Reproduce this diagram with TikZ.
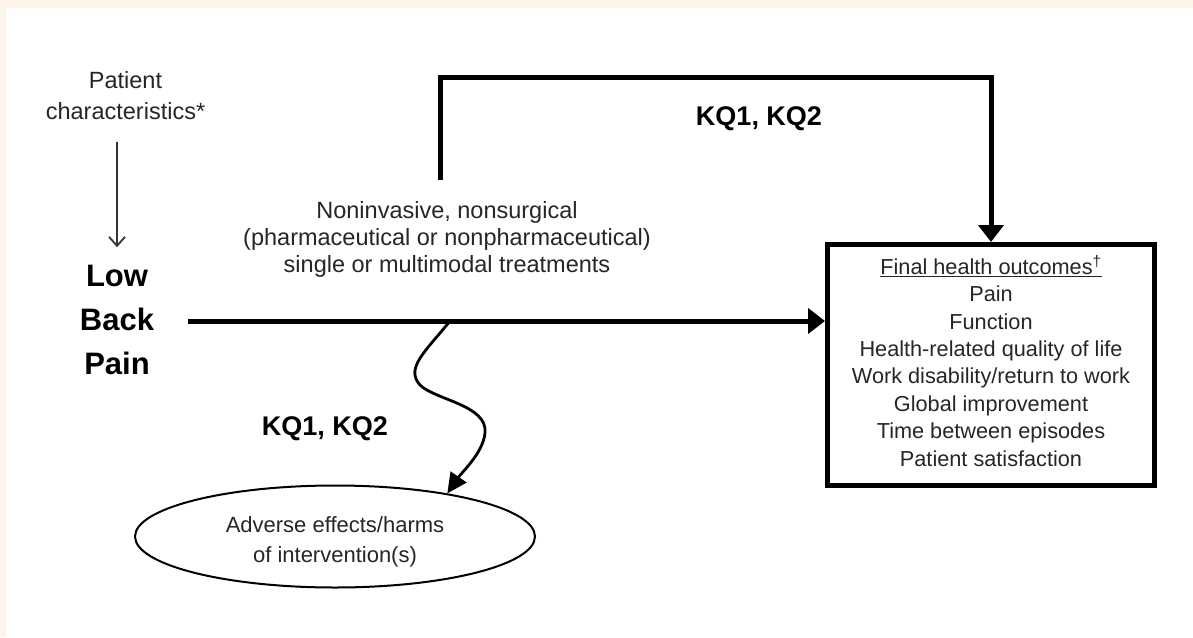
\documentclass[tikz,border=0pt]{standalone}
\usepackage{fontspec}
\setmainfont{Liberation Sans}
\usetikzlibrary{arrows.meta,shapes.geometric}
\definecolor{cream}{RGB}{252,244,233}
\begin{document}
\begin{tikzpicture}[x=1pt,y=-1pt,
  txt/.style={inner sep=0pt, outer sep=0pt, align=center, text=black!85},
  kq/.style={inner sep=0pt, outer sep=0pt, anchor=base, font=\bfseries\fontsize{27}{32}\selectfont},
  bigarrow/.style={line width=5pt, -{Triangle[length=17pt,width=25pt]}},
  thinarrow/.style={line width=1.8pt, draw=black!80, -{Straight Barb[length=9pt,width=16pt]}},
  wavyarrow/.style={line width=2.8pt, -{Triangle[length=20pt,width=19pt]}},
  outbox/.style={draw, line width=5pt, inner sep=0pt, align=center, text=black!85,
    minimum width=327pt, minimum height=241pt, font=\fontsize{21.7}{27.4}\selectfont},
  harm/.style={draw, ellipse, line width=2pt, inner sep=0pt, align=center, text=black!85,
    minimum width=400pt, minimum height=102pt, font=\fontsize{22}{30}\selectfont}
]
\useasboundingbox (0,0) rectangle (1193,637);
\fill[cream] (0,0) rectangle (1193,637);
\fill[white] (6,8) rectangle (1193,637);

\node[txt, font=\fontsize{23.5}{31}\selectfont] (pc) at (125.5,95.5) {Patient\\characteristics*};
\node[txt, text=black, font=\bfseries\fontsize{31}{44}\selectfont] (lbp) at (117,320) {Low\\Back\\Pain};
\node[txt, font=\fontsize{23.5}{27}\selectfont] (treat) at (447,239)
  {Noninvasive, nonsurgical\\(pharmaceutical or nonpharmaceutical)\\single or multimodal treatments};
\node[outbox] (box) at (991,365)
  {\underline{Final health outcomes\textsuperscript{†}}\\Pain\\Function\\Health-related quality of life\\Work disability/return to work\\Global improvement\\Time between episodes\\Patient satisfaction\rule[-8pt]{0pt}{8pt}};
\node[harm] (adv) at (335,536.5) {\rule{0pt}{26pt}Adverse effects/harms\\of intervention(s)};
\node[kq] (kqtop) at (759,125) {KQ1, KQ2};
\node[kq] (kqbot) at (325,435) {KQ1, KQ2};

\coordinate (mstart) at (188,321);
\coordinate (split) at (450,321);
\coordinate (bstart) at (440,180);

\draw[thinarrow, shorten <=22pt, shorten >=18pt] (lbp.north |- pc.south) -- (lbp.north);
\draw[bigarrow] (mstart) -- (mstart -| box.west);
\draw[bigarrow] (bstart) -- ++(0,-103) -| (box.north);
\draw[wavyarrow] (split) .. controls (425,352) and (405,368) .. (420,385)
  .. controls (435,400) and (488,405) .. (485,433)
  .. controls (483,453) and (462,472) .. (adv.21);
\end{tikzpicture}
\end{document}
